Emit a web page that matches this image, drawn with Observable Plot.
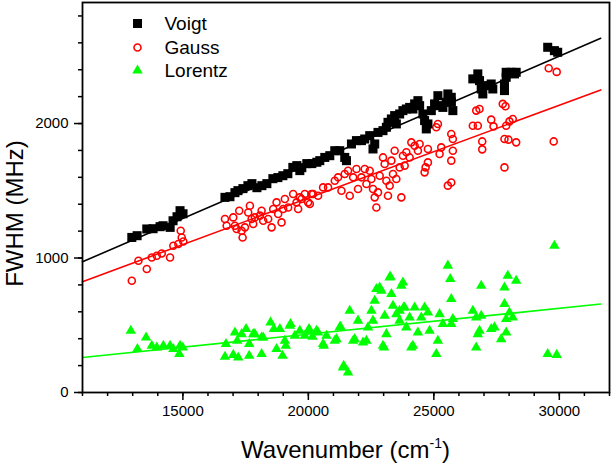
<!DOCTYPE html>
<html>
<head>
<meta charset="utf-8">
<script src="https://cdn.jsdelivr.net/npm/d3@7"></script>
<script src="https://cdn.jsdelivr.net/npm/@observablehq/plot@0.6"></script>
<style>
  body { margin: 0; background: #fff; }
  #chart { width: 611px; height: 464px; }
</style>
</head>
<body>
<div id="chart"></div>
<script>
// values
const seriesNames = ["Voigt", "Gauss", "Lorentz"];

const voigtX = [12965,13176,13562,13812,14091,14210,14493,14608,14767,14887,15006,
  16677,16876,17075,17194,17393,17592,17751,17950,18149,18347,18586,18785,18984,19183,
  19382,19541,19740,19939,20138,20337,19660,20456,20655,20854,21053,21251,21450,21518,
  21717,21916,22115,22246,22445,22576,22644,22775,22974,23109,23173,23308,23439,23506,
  23638,23769,23904,24036,24167,24235,24366,24434,24565,24632,24700,24764,24899,25030,
  25162,25229,25360,25496,25559,25695,25758,25700,26554,26753,26821,26888,26952,27019,
  27286,27350,27815,27815,27883,27883,28082,28213,28281,29538,29804,29935];
const voigtY = [1153,1166,1216,1218,1233,1240,1228,1277,1307,1352,1329,
  1451,1456,1486,1501,1516,1538,1553,1523,1538,1553,1590,1598,1612,1627,
  1674,1687,1672,1702,1702,1712,1650,1724,1748,1761,1798,1798,1748,1724,
  1848,1873,1873,1885,1910,1811,1848,1934,1947,1972,2009,2034,2059,1997,
  2071,2096,2108,2120,2108,2146,2170,2133,2071,2022,1960,1997,2096,2146,
  2207,2133,2120,2158,2220,2195,2096,2160,2332,2369,2319,2257,2220,2282,
  2294,2257,2245,2294,2344,2381,2381,2369,2381,2567,2542,2530];

const gaussX = [12965,13228,13562,13761,13960,14158,14489,14620,14819,14954,15018,14914,
  16677,16744,17007,17075,17142,17246,17341,17380,17473,17604,17671,17739,17803,17870,
  18069,18137,18200,18399,18535,18598,18733,18797,18932,18996,19064,19195,19394,19529,
  19593,19728,19859,19990,20126,20388,19660,20058,20189,20587,20786,21053,21184,21319,
  21450,21582,21649,21785,21916,21980,22115,22246,22314,22445,22513,22576,22644,22711,
  22775,22843,22974,23041,23109,23173,23240,23308,23372,23439,23506,23638,23705,23769,
  23837,23904,24036,24103,24235,24366,24434,24632,24672,24764,24764,25098,25162,25229,
  25296,25559,25695,25695,25758,25695,25758,26689,26821,26554,26753,26928,26928,27286,
  27378,27747,27855,27883,28014,28145,27815,27974,28281,27815,29578,29896,29777];
const gaussY = [831,980,918,1004,1017,1034,1004,1091,1104,1153,1123,1203,
  1290,1240,1302,1240,1216,1352,1203,1153,1228,1339,1389,1290,1253,1302,
  1315,1352,1277,1290,1228,1364,1414,1327,1265,1364,1439,1376,1476,1414,
  1364,1439,1476,1414,1476,1463,1451,1402,1476,1525,1525,1575,1600,1500,
  1625,1649,1463,1600,1662,1513,1600,1662,1550,1649,1588,1513,1451,1376,
  1488,1612,1748,1699,1575,1463,1538,1724,1625,1798,1588,1674,1451,1761,
  1687,1786,1748,1860,1835,1798,1848,1637,1674,1811,1711,1972,1997,1774,
  1823,1538,1562,1724,1798,1922,1885,2096,2108,1984,1984,1867,1808,2029,
  1979,2146,2128,1984,2016,2034,1885,1880,1860,1674,2411,2384,1867];

const lorentzX = [12925,13188,13534,13761,13960,14222,14489,14620,14887,14859,14994,
  16717,16677,17007,17075,17166,17206,17341,17518,17643,17643,17803,17870,18137,18137,
  18200,18495,18626,18733,18865,18972,19064,19103,19263,19290,19461,19660,19859,19990,
  20030,20165,20325,20388,20587,20615,20722,21053,21120,21251,21279,21383,21410,21582,
  21649,21785,21848,21980,22178,22314,22377,22513,22576,22644,22711,22843,22909,22974,
  23014,23041,23109,23240,23268,23308,23372,23506,23638,23638,23705,23769,23797,23837,
  23904,24036,24103,24167,24235,24366,24500,24632,24764,24831,25098,25162,25229,25360,
  25559,25654,25695,25695,25758,26554,26689,26689,26753,26888,26888,26821,27286,27417,
  27684,27815,27815,27883,27883,27947,28014,28145,28281,29538,29896,29804];
const lorentzY = [459,323,409,347,335,347,347,323,347,286,335,
  360,266,280,446,385,260,434,472,360,273,434,434,286,409,
  409,521,472,323,472,273,385,347,496,509,422,459,422,459,
  472,415,459,446,360,347,422,385,397,484,489,186,199,149,
  608,385,397,534,372,385,484,608,534,682,769,781,757,347,
  335,571,434,856,861,732,645,583,534,608,794,818,632,632,
  484,558,335,347,632,446,558,632,595,459,286,385,583,509,
  943,844,695,509,546,608,558,335,434,794,571,459,472,484,
  397,781,658,546,446,868,595,558,831,286,280,1091];

// fitted lines, end points
const fitX = [11000, 31650];
const voigtFit = [972, 2634];
const gaussFit = [824, 2250];
const lorentzFit = [260, 658];

const xTicks = [15000, 20000, 25000, 30000];
const yTicks = [0, 1000, 2000];

const toRows = (xs, ys) => xs.map((x, i) => ({x, y: ys[i]}));
const voigt = toRows(voigtX, voigtY);
const gauss = toRows(gaussX, gaussY);
const lorentz = toRows(lorentzX, lorentzY);
const fits = [
  ...toRows(fitX, voigtFit).map(d => ({...d, s: "Voigt"})),
  ...toRows(fitX, gaussFit).map(d => ({...d, s: "Gauss"})),
  ...toRows(fitX, lorentzFit).map(d => ({...d, s: "Lorentz"}))
];

const colors = {Voigt: "#000000", Gauss: "#ff0000", Lorentz: "#00ff00"};
const xMinor = d3.range(11000, 32001, 1000);
const yMinor = d3.range(0, 2901, 200);

// one legend row: symbol + label
const legendRow = (name, dy, sym) => [
  Plot.dot([name], {frameAnchor: "top-left", dx: 55, dy, ...sym}),
  Plot.text([name], {frameAnchor: "top-left", dx: 82, dy, text: d => d,
    textAnchor: "start", lineAnchor: "middle", fontSize: 19, fill: "black"})
];

const chart = Plot.plot({
  width: 611,
  height: 464,
  marginLeft: 82,
  marginRight: 2,
  marginTop: 2,
  marginBottom: 72,
  x: {domain: [11000, 32000]},
  y: {domain: [0, 2900]},
  style: {fontFamily: "Liberation Sans, Arial, sans-serif", background: "white", color: "black"},
  marks: [
    Plot.line(fits, {x: "x", y: "y", z: "s", stroke: d => colors[d.s], strokeWidth: 1.6}),
    Plot.dot(lorentz, {x: "x", y: "y", symbol: "triangle", fill: colors.Lorentz, r: 3.9}),
    Plot.dot(gauss, {x: "x", y: "y", symbol: "circle", stroke: colors.Gauss, fill: "none", r: 3.5, strokeWidth: 1.6}),
    Plot.dot(voigt, {x: "x", y: "y", symbol: "square", fill: colors.Voigt, r: 5.1}),
    Plot.frame({strokeWidth: 1.8}),
    Plot.axisX({ticks: xMinor, tickSize: 4, tickFormat: () => "", label: null, strokeWidth: 1.5}),
    Plot.axisX({ticks: xTicks, tickSize: 8, tickPadding: 5, tickFormat: "d", fontSize: 15, label: null, strokeWidth: 1.5}),
    Plot.axisY({ticks: yMinor, tickSize: 4, tickFormat: () => "", label: null, strokeWidth: 1.5}),
    Plot.axisY({ticks: yTicks, tickSize: 8, tickPadding: 6, tickFormat: "d", fontSize: 15, label: null, strokeWidth: 1.5}),
    ...legendRow(seriesNames[0], 21, {symbol: "square", fill: colors.Voigt, r: 5.1}),
    ...legendRow(seriesNames[1], 45, {symbol: "circle", stroke: colors.Gauss, fill: "none", r: 3.5, strokeWidth: 1.6}),
    ...legendRow(seriesNames[2], 68, {symbol: "triangle", fill: colors.Lorentz, r: 3.9}),
    // y axis title
    Plot.text(["FWHM (MHz)"], {
      frameAnchor: "left", dx: -60, dy: 16, rotate: -90, text: d => d,
      textAnchor: "middle", lineAnchor: "bottom", fontSize: 24, fill: "black"
    })
  ]
});

// x axis title with superscript
const xt = d3.select(chart).append("text")
  .attr("x", 345.5).attr("y", 458)
  .attr("text-anchor", "middle")
  .attr("font-size", 24)
  .attr("fill", "black");
xt.append("tspan").text("Wavenumber (cm");
xt.append("tspan").attr("font-size", 14).attr("dy", -10).text("-1");
xt.append("tspan").attr("dy", 10).text(")");

document.querySelector("#chart").append(chart);
</script>
</body>
</html>
